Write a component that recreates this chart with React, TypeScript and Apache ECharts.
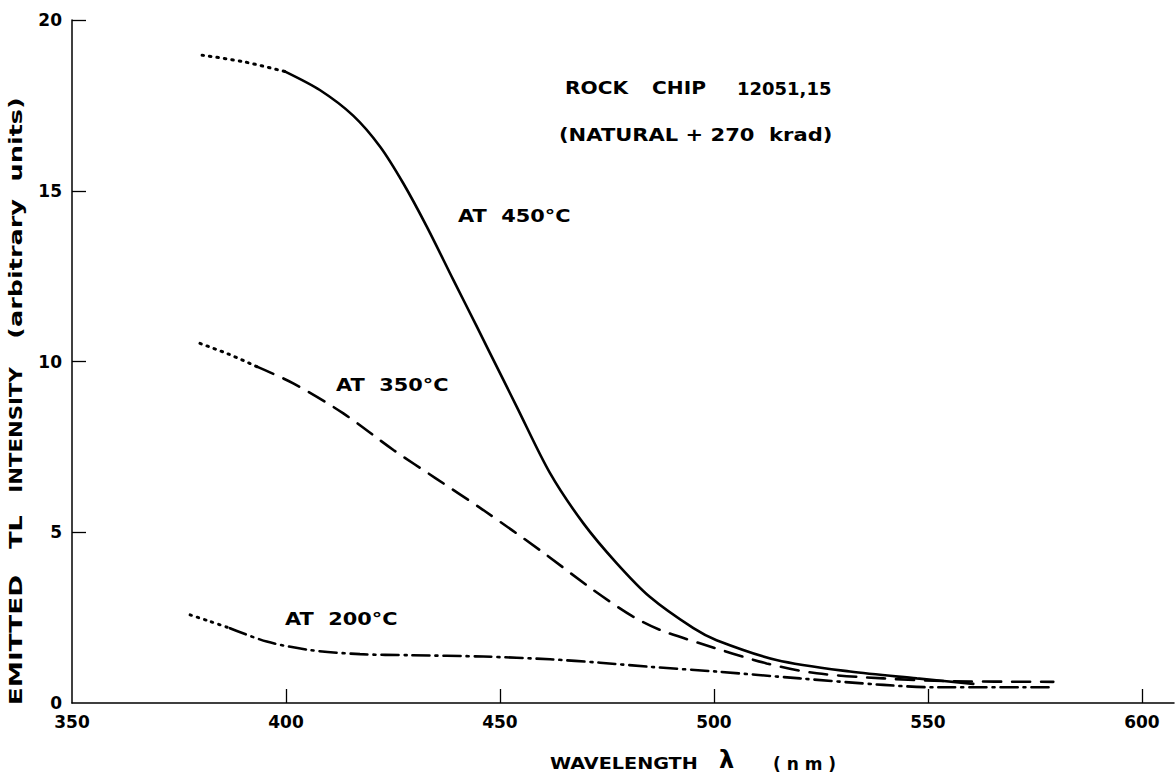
import React, { useEffect, useRef } from "react";
import * as echarts from "echarts";

// ---- data ----
const xTickLabels = [350, 400, 450, 500, 550, 600];
const yTickLabels = [0, 5, 10, 15, 20];

// AT 450°C
const nm450Dotted = [380.4, 390, 399.8];
const val450Dotted = [18.97, 18.78, 18.49];
const nm450 = [399.8, 407.9, 415.7, 422, 427.4, 432.9, 439.1, 444.6, 450.8, 453.9, 461.7, 469.5, 477.3, 485, 495.2, 500.6, 514.6, 531.8, 547.4, 560.6];
const val450 = [18.49, 17.95, 17.2, 16.29, 15.22, 13.95, 12.39, 11.02, 9.46, 8.68, 6.73, 5.26, 4.09, 3.11, 2.19, 1.84, 1.26, 0.92, 0.72, 0.56];

// AT 350°C
const nm350Dotted = [379.9, 386.5, 393.2];
const val350Dotted = [10.53, 10.22, 9.85];
const nm350 = [393.2, 401.7, 413.4, 425.1, 435, 446.1, 459.3, 471.8, 481.1, 487.4, 496.7, 512.3, 524, 539.6, 555.1, 579.3];
const val350 = [9.85, 9.36, 8.48, 7.41, 6.58, 5.65, 4.48, 3.31, 2.53, 2.14, 1.75, 1.16, 0.87, 0.72, 0.64, 0.62];

// AT 200°C
const nm200Dotted = [377.6, 382, 386.9];
const val200Dotted = [2.58, 2.4, 2.19];
const nm200 = [386.9, 395.5, 405.6, 417.3, 429, 446.1, 461.7, 473.4, 485, 500.6, 520.1, 539.6, 551.2, 579.3];
const val200 = [2.19, 1.8, 1.55, 1.43, 1.4, 1.36, 1.28, 1.18, 1.06, 0.92, 0.72, 0.53, 0.46, 0.46];

const FONT = "'DejaVu Sans', sans-serif";

function pairs(xs: number[], ys: number[]) {
  return xs.map((x, i) => [x, ys[i]]);
}

function lineSeries(name: string, xs: number[], ys: number[], type: any, width = 2.6) {
  return {
    name,
    type: "line",
    data: pairs(xs, ys),
    smooth: 0.3,
    showSymbol: false,
    symbol: "none",
    silent: true,
    lineStyle: { color: "#000", width, type, cap: "round" },
  };
}

function label(text: string, x: number, y: number, size = 18, sx = 1.15) {
  return {
    type: "text",
    x,
    y,
    scaleX: sx,
    silent: true,
    style: {
      text,
      fill: "#000",
      fontFamily: FONT,
      fontWeight: "bold",
      fontSize: size,
      align: "left",
      verticalAlign: "middle",
    },
  };
}

function vLabel(text: string, y: number, sx: number, size = 17) {
  return {
    type: "text",
    x: 16,
    y,
    rotation: Math.PI / 2,
    scaleX: sx,
    silent: true,
    style: {
      text,
      fill: "#000",
      fontFamily: FONT,
      fontWeight: "bold",
      fontSize: size,
      align: "center",
      verticalAlign: "middle",
    },
  };
}

export default function App() {
  const ref = useRef<HTMLDivElement>(null);
  useEffect(() => {
    if (!ref.current) return;
    const chart = echarts.init(ref.current, undefined, { renderer: "svg" });
    chart.setOption({
      animation: false,
      backgroundColor: "#fff",
      grid: { left: 72, right: 2, top: 20, bottom: 74, containLabel: false },
      xAxis: {
        type: "value",
        min: 350,
        max: 607.5,
        interval: 50,
        axisLine: { show: true, lineStyle: { color: "#000", width: 1.5 } },
        axisTick: { show: true, inside: true, length: 14, customValues: xTickLabels.slice(1), lineStyle: { color: "#000", width: 1.3 } },
        axisLabel: {
          customValues: xTickLabels,
          color: "#000",
          fontFamily: FONT,
          fontWeight: "bold",
          fontSize: 17,
          margin: 10,
        },
        splitLine: { show: false },
      },
      yAxis: {
        type: "value",
        min: 0,
        max: 20,
        interval: 5,
        axisLine: { show: true, lineStyle: { color: "#000", width: 1.5 } },
        axisTick: { show: true, inside: true, length: 14, customValues: yTickLabels.slice(1), lineStyle: { color: "#000", width: 1.3 } },
        axisLabel: {
          customValues: yTickLabels,
          color: "#000",
          fontFamily: FONT,
          fontWeight: "bold",
          fontSize: 17,
          margin: 10,
        },
        splitLine: { show: false },
      },
      series: [
        lineSeries("450 dotted", nm450Dotted, val450Dotted, [1.5, 6], 3),
        lineSeries("AT 450°C", nm450, val450, "solid"),
        lineSeries("350 dotted", nm350Dotted, val350Dotted, [1.5, 6], 3),
        lineSeries("AT 350°C", nm350, val350, [18, 11]),
        lineSeries("200 dotted", nm200Dotted, val200Dotted, [1.5, 6], 3),
        lineSeries("AT 200°C", nm200, val200, [17, 6, 2, 6]),
      ],
      graphic: [
        label("ROCK", 565, 88, 18, 1.12),
        label("CHIP", 652, 88, 18, 1.12),
        label("12051,15", 737, 88, 18, 1.0),
        label("(NATURAL + 270  krad)", 559, 135, 18, 1.17),
        label("AT  450°C", 458, 216, 18, 1.16),
        label("AT  350°C", 336, 385, 18, 1.16),
        label("AT  200°C", 285, 619, 18, 1.16),
        label("WAVELENGTH", 550, 764, 15, 1.28),
        label("λ", 719, 760, 24, 1),
        label("( n m )", 773, 764, 17, 1),
        vLabel("EMITTED", 640, 1.55),
        vLabel("TL", 532, 1.5),
        vLabel("INTENSITY", 430, 1.25),
        vLabel("(arbitrary  units)", 218, 1.5),
      ],
    });
    return () => chart.dispose();
  }, []);
  return <div ref={ref} style={{ position: "fixed", left: 0, top: 0, width: 1176, height: 777, background: "#fff" }} />;
}
